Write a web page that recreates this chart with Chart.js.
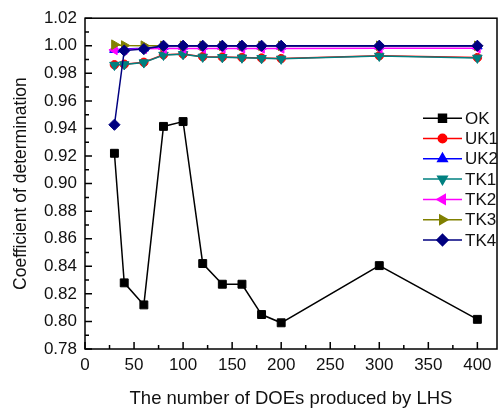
<!DOCTYPE html>
<html>
<head>
<meta charset="utf-8">
<script src="https://cdn.jsdelivr.net/npm/chart.js@4.4.1/dist/chart.umd.min.js"></script>
<style>
  html, body { margin: 0; padding: 0; background: #fff; }
</style>
</head>
<body>
<canvas id="chart" width="501" height="415"></canvas>
<script>
// x positions: number of DOEs
const does = [30, 40, 60, 80, 100, 120, 140, 160, 180, 200, 300, 400]

// coefficient of determination per model
const ok  = [0.922, 0.828, 0.812, 0.9415, 0.945, 0.842, 0.827, 0.827, 0.805, 0.799, 0.8405, 0.8015]
const uk1 = [0.9862, 0.9866, 0.9880, 0.9935, 0.9940, 0.9921, 0.9918, 0.9915, 0.9911, 0.9907, 0.9928, 0.9914]
const uk2 = [0.9972, 0.9976, 0.9982, 0.9995, 0.9996, 0.9996, 0.9996, 0.9996, 0.9996, 0.9996, 0.9997, 0.9997]
const tk1 = [0.9860, 0.9864, 0.9878, 0.9933, 0.9938, 0.9919, 0.9916, 0.9913, 0.9909, 0.9905, 0.9926, 0.9912]
const tk2 = [0.9970, 0.9972, 0.9978, 0.9980, 0.9981, 0.9981, 0.9981, 0.9981, 0.9981, 0.9981, 0.9982, 0.9982]
const tk3 = [1.0008, 1.0002, 1.0001, 1.0000, 1.0000, 1.0000, 1.0000, 1.0000, 1.0000, 1.0000, 1.0000, 1.0000]
const tk4 = [0.9427, 0.9965, 0.9976, 1.0000, 1.0000, 1.0000, 1.0000, 1.0000, 1.0000, 1.0000, 1.0000, 1.0000]

const xTicks = [0, 50, 100, 150, 200, 250, 300, 350, 400]
const yTicks = [0.78, 0.80, 0.82, 0.84, 0.86, 0.88, 0.90, 0.92, 0.94, 0.96, 0.98, 1.00, 1.02]

const series = [
  { label: 'OK',  values: ok,  color: '#000000', pointStyle: 'rect',     radius: 5.6, rotation: 0 },
  { label: 'UK1', values: uk1, color: '#ff0000', pointStyle: 'circle',   radius: 4.2, rotation: 0 },
  { label: 'UK2', values: uk2, color: '#0000ff', pointStyle: 'triangle', radius: 5.5, rotation: 0 },
  { label: 'TK1', values: tk1, color: '#008080', pointStyle: 'triangle', radius: 5.5, rotation: 180 },
  { label: 'TK2', values: tk2, color: '#ff00ff', pointStyle: 'triangle', radius: 5.5, rotation: -90 },
  { label: 'TK3', values: tk3, color: '#808000', pointStyle: 'triangle', radius: 5.5, rotation: 90 },
  { label: 'TK4', values: tk4, color: '#000080', pointStyle: 'rectRot',  radius: 5.6, rotation: 0 },
]

const FONT = '"Liberation Sans", Arial, sans-serif'

// box round the plot, with inward major and minor ticks on left and bottom
const frame = {
  id: 'frame',
  beforeDatasetsDraw(chart) {
    const { ctx, chartArea: a, scales: { x, y } } = chart
    ctx.save()
    ctx.strokeStyle = '#000'
    ctx.lineWidth = 1.5
    ctx.strokeRect(a.left, a.top, a.right - a.left, a.bottom - a.top)
    ctx.beginPath()
    for (let i = 0; i < xTicks.length; i++) {
      const px = x.getPixelForValue(xTicks[i])
      ctx.moveTo(px, a.bottom)
      ctx.lineTo(px, a.bottom - 7)
      if (i < xTicks.length - 1) {
        const m = x.getPixelForValue((xTicks[i] + xTicks[i + 1]) / 2)
        ctx.moveTo(m, a.bottom)
        ctx.lineTo(m, a.bottom - 4)
      }
    }
    for (let i = 0; i < yTicks.length; i++) {
      const py = y.getPixelForValue(yTicks[i])
      ctx.moveTo(a.left, py)
      ctx.lineTo(a.left + 7, py)
      if (i < yTicks.length - 1) {
        const m = y.getPixelForValue((yTicks[i] + yTicks[i + 1]) / 2)
        ctx.moveTo(a.left, m)
        ctx.lineTo(a.left + 4, m)
      }
    }
    ctx.stroke()
    ctx.restore()
  },
}

// legend inside the plot, line + marker + label
const insideLegend = {
  id: 'insideLegend',
  afterDatasetsDraw(chart) {
    const { ctx, chartArea: a } = chart
    const x0 = a.right - 74
    const x1 = a.right - 35
    const top = a.top + 100
    ctx.save()
    ctx.font = `17px ${FONT}`
    ctx.textBaseline = 'middle'
    series.forEach((s, i) => {
      const ly = top + i * 20.3
      ctx.strokeStyle = s.color
      ctx.lineWidth = 1.5
      ctx.beginPath()
      ctx.moveTo(x0, ly)
      ctx.lineTo(x1, ly)
      ctx.stroke()
      ctx.fillStyle = s.color
      Chart.helpers.drawPoint(ctx, { pointStyle: s.pointStyle, radius: s.radius, rotation: s.rotation, borderWidth: 1 }, (x0 + x1) / 2, ly)
      ctx.fillStyle = '#111'
      ctx.fillText(s.label, x1 + 3, ly + 1)
    })
    ctx.restore()
  },
}

const datasets = series.map((s, i) => ({
  label: s.label,
  data: does.map((d, j) => ({ x: d, y: s.values[j] })),
  borderColor: s.color,
  backgroundColor: s.color,
  borderWidth: 1.5,
  pointStyle: s.pointStyle,
  pointRadius: s.radius,
  pointRotation: s.rotation,
  pointBorderWidth: 1,
  pointBorderColor: s.color,
  pointBackgroundColor: s.color,
  tension: 0,
  order: series.length - i,
}))

new Chart(document.getElementById('chart'), {
  type: 'line',
  data: { datasets },
  plugins: [frame, insideLegend],
  options: {
    responsive: false,
    animation: false,
    devicePixelRatio: 1,
    layout: { padding: { top: 16, right: 4, left: 0, bottom: 0 }, autoPadding: false },
    plugins: { legend: { display: false }, tooltip: { enabled: false } },
    scales: {
      x: {
        type: 'linear',
        min: 0,
        max: 420,
        afterFit: (s) => { s.height = 66 },
        afterBuildTicks: (s) => { s.ticks = xTicks.map((v) => ({ value: v })) },
        grid: { display: false, drawTicks: false },
        border: { display: false },
        ticks: { color: '#111', padding: 6, maxRotation: 0, font: { family: FONT, size: 17 } },
        title: { display: true, text: 'The number of DOEs produced by LHS', color: '#111', padding: { top: 0, bottom: 5 }, font: { family: FONT, size: 18.5 } },
      },
      y: {
        min: 0.78,
        max: 1.02,
        afterFit: (s) => { s.width = 85 },
        afterBuildTicks: (s) => { s.ticks = yTicks.map((v) => ({ value: v })) },
        grid: { display: false, drawTicks: false },
        border: { display: false },
        ticks: { color: '#111', padding: 8, callback: (v) => v.toFixed(2), font: { family: FONT, size: 17 } },
        title: { display: true, text: 'Coefficient of determination', color: '#111', padding: { top: 11, bottom: 0 }, font: { family: FONT, size: 17.5 } },
      },
    },
  },
})
</script>
</body>
</html>
